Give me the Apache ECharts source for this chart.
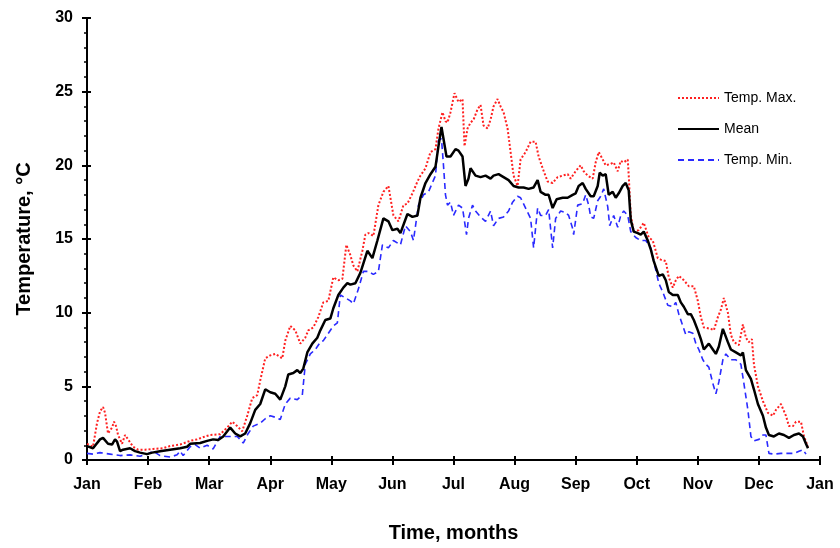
<!DOCTYPE html>
<html>
<head>
<meta charset="utf-8">
<script src="https://cdn.jsdelivr.net/npm/echarts@6/dist/echarts.min.js"></script>
<style>html,body{margin:0;padding:0;background:#fff;}#c{width:840px;height:548px;}</style>
</head>
<body>
<div id="c"></div>
<script>
// Time axis in days (one month = 30.5 days on the chart)
const monthLabels = ['Jan','Feb','Mar','Apr','May','Jun','Jul','Aug','Sep','Oct','Nov','Dec','Jan'];
const yTicks = [0,5,10,15,20,25,30];

// [day, °C]
const tempMaxData = [[0,1.1],[1.5,1.0],[3,0.9],[5,2.5],[6.5,3.3],[8,3.6],[9,3.2],[10.5,1.8],[12.5,2.2],[13.5,2.6],[14.5,2.3],[15.5,1.7],[17.5,1.1],[19,1.7],[20.5,1.4],[23,0.9],[25.5,0.7],[29,0.7],[33,0.75],[38,0.8],[41.5,0.95],[46.5,1.05],[51.5,1.3],[55,1.4],[59,1.6],[61.5,1.7],[66.5,1.75],[70,2.2],[72.5,2.6],[75,2.3],[77.5,1.95],[80,3.0],[82.5,4.2],[85,4.4],[86.5,5.4],[89,6.9],[91.5,7.1],[94,7.2],[97.5,6.9],[99,8.1],[101.5,9.1],[104,8.8],[106.5,7.9],[109,8.3],[110.5,8.8],[113,9.0],[115.5,9.7],[118,10.7],[120.5,10.8],[123,12.4],[125.5,12.2],[127.5,12.3],[129.5,14.6],[131.5,13.9],[133,13.2],[135,12.8],[137.5,14.2],[139,15.3],[140.5,15.4],[143,15.2],[145.5,17.3],[148,18.2],[150.5,18.6],[153,16.6],[155.5,16.2],[158,17.3],[160,17.4],[162.5,18.1],[165,18.9],[166.5,19.3],[169,19.8],[171.5,20.9],[174,21.1],[175.5,22.5],[177.5,23.6],[179,23.0],[180,22.9],[181.5,23.6],[183.5,24.9],[185.5,24.3],[187.5,24.5],[188.5,21.3],[190,22.5],[191.5,22.9],[193,23.1],[195,23.8],[196.5,24.1],[198,22.7],[200,22.5],[201.5,23.1],[203,24.0],[205,24.5],[206.5,24.0],[208,23.6],[210,22.5],[211.5,20.9],[213,19.3],[215,18.6],[216.5,20.4],[219,20.9],[221.5,21.6],[224,21.6],[225.5,20.6],[227.5,19.8],[230,18.9],[232.5,18.8],[235,19.2],[237.5,19.3],[240,19.4],[241.5,19.1],[244,19.6],[246.5,20.0],[248,19.6],[250,19.3],[252.5,19.1],[254,20.2],[255.5,20.9],[257.5,20.4],[259,20.0],[261.5,20.1],[263,20.2],[265,19.6],[266.5,20.3],[268,20.2],[270,20.4],[270.5,19.3],[271.5,16.6],[273,15.5],[275.5,15.6],[278,16.1],[280.5,15.1],[282.5,14.9],[285,13.7],[286.5,13.6],[289,13.5],[290.5,12.4],[292.5,11.7],[294,12.2],[295.5,12.5],[298,12.2],[300.5,11.8],[303,11.8],[305,10.8],[306.5,9.7],[308,9.0],[311.5,8.9],[313,8.8],[315,9.7],[316.5,10.2],[318,11.0],[320,10.0],[321.5,8.5],[323,8.0],[325.5,7.8],[327.5,9.2],[329,8.3],[330.5,8.0],[332,8.2],[333,6.5],[335,5.0],[337.5,4.0],[340,3.2],[342.5,3.0],[344,3.4],[346.5,3.8],[349,3.0],[350.5,2.3],[352.5,2.3],[354,2.6],[356.5,2.6],[358,1.6],[360,0.9]];

const tempMeanData = [[0,0.94],[3,0.8],[6.5,1.4],[8,1.5],[10.5,1.1],[12.5,1.05],[14,1.4],[15,1.25],[16.5,0.6],[18,0.7],[21.5,0.8],[24,0.6],[26.5,0.5],[30,0.4],[32.5,0.5],[36.5,0.6],[41.5,0.7],[46.5,0.8],[50,0.9],[51.5,1.1],[56.5,1.15],[60,1.3],[63,1.4],[65.5,1.35],[68,1.6],[71.5,2.2],[74,1.8],[76.5,1.6],[79,1.8],[81.5,2.5],[84,3.4],[86.5,3.8],[89,4.8],[91.5,4.6],[94,4.5],[96.5,4.1],[99,5.0],[100.5,5.8],[103,5.9],[105,6.1],[106.5,5.9],[108,6.2],[110,7.3],[112.5,7.9],[115,8.3],[116.5,8.8],[119,9.5],[121.5,9.6],[123,10.3],[125.5,11.2],[128,11.7],[130,12.0],[131.5,11.9],[134,12.0],[136.5,12.7],[140,14.2],[142.5,13.7],[145,14.9],[148,16.4],[150.5,16.2],[152.5,15.6],[155,15.7],[156.5,15.4],[160,16.7],[162.5,16.5],[165,16.6],[166.5,17.8],[169,18.8],[171.5,19.4],[174,19.9],[175.5,21.3],[177,22.6],[178,21.8],[179.5,20.6],[181.5,20.6],[184,21.1],[185.5,21.0],[187.5,20.6],[189,18.6],[190.5,19.1],[191.5,19.8],[194,19.3],[196.5,19.2],[199,19.3],[201.5,19.1],[203,19.3],[205.5,19.4],[208,19.2],[210.5,19.0],[213,18.6],[215.5,18.5],[218,18.5],[220.5,18.4],[223,18.5],[225,19.0],[226.5,18.2],[229,18.0],[230.5,18.0],[232.5,17.1],[234.5,17.7],[237.5,17.8],[240,17.8],[242.5,18.0],[244,18.1],[245.5,18.6],[247.5,18.8],[249,18.4],[251.5,17.9],[253,17.9],[255,18.6],[256,19.5],[257.5,19.3],[259,19.4],[260.5,18.0],[262.5,18.2],[264,17.8],[265.5,18.1],[267.5,18.6],[269,18.8],[270.5,18.3],[271.5,16.3],[273,15.5],[275,15.4],[276.5,15.3],[278,15.5],[280,14.9],[281.5,14.3],[283,13.5],[285.5,12.5],[287.5,12.6],[289,12.2],[290.5,11.4],[292.5,11.2],[295,11.2],[296.5,10.7],[298,10.4],[300,9.9],[301.5,9.9],[303,9.5],[305,8.8],[306.5,8.2],[308,7.5],[310.5,7.9],[312.5,7.5],[314,7.2],[315.5,7.7],[317.5,8.9],[320,8.0],[321.5,7.5],[324,7.3],[326.5,7.1],[327.5,7.3],[329,6.1],[331.5,5.5],[333,4.8],[335,3.8],[337.5,3.0],[339,2.2],[340.5,1.7],[343,1.6],[345.5,1.8],[348,1.7],[350.5,1.5],[353,1.7],[355.5,1.8],[357.5,1.6],[359,1.1],[360,0.8]];

const tempMinData = [[0,0.45],[3,0.4],[6.5,0.5],[11.5,0.4],[16.5,0.3],[21.5,0.35],[26.5,0.25],[30,0.4],[33,0.6],[36.5,0.3],[41.5,0.2],[45,0.35],[46.5,0.6],[48,0.3],[51.5,0.9],[54,1.05],[56.5,0.8],[60,1.0],[63,0.75],[66.5,1.6],[71.5,1.6],[75,1.6],[78,1.15],[80.5,1.8],[83,2.3],[86.5,2.5],[89,2.8],[91.5,3.0],[94,2.9],[96.5,2.75],[99,3.8],[101.5,4.2],[105,4.1],[107.5,4.4],[109,6.5],[111.5,7.2],[114,7.5],[116.5,8.0],[118,8.1],[120,8.5],[123,9.1],[125,9.3],[126.5,11.2],[129,11.0],[131.5,10.8],[133,10.6],[135.5,11.6],[138,12.8],[140.5,12.8],[143,12.6],[145.5,12.8],[147.5,14.6],[150.5,14.4],[153,14.9],[156.5,14.6],[159,15.9],[161.5,15.5],[163,14.9],[165.5,17.3],[168,18.0],[170.5,18.2],[174,19.3],[175.5,21.7],[177,21.8],[178,20.0],[179,18.0],[180,17.3],[181.5,17.5],[183,16.6],[185.5,17.3],[187.5,17.1],[189.5,15.3],[190.5,16.4],[192.5,17.3],[194,16.9],[196.5,16.5],[199,16.2],[201.5,16.9],[203,15.9],[205.5,16.4],[208,16.5],[210.5,16.9],[212.5,17.5],[215,17.9],[216.5,17.8],[219,17.1],[221.5,16.4],[223,14.4],[225,17.1],[226.5,16.6],[229,16.6],[230.5,17.0],[232.5,14.4],[234,16.4],[236.5,16.9],[239,16.8],[240.5,16.6],[242.5,15.7],[243,15.3],[245,17.3],[247.5,17.4],[249,18.0],[250.5,17.3],[251.5,16.5],[253,16.4],[255,17.6],[256.5,17.9],[258,18.4],[260,17.2],[261,15.9],[263,16.6],[265,15.8],[266.5,16.6],[268,16.9],[270,16.6],[271.5,15.5],[274,15.1],[276.5,14.9],[279,14.9],[281.5,14.4],[283,13.5],[285.5,12.0],[287.5,11.4],[290,10.5],[292.5,10.4],[294,10.7],[295.5,9.9],[299,8.5],[300.5,8.7],[302.5,8.6],[304,7.9],[305.5,7.5],[307.5,6.8],[309,6.5],[310.5,6.3],[312.5,5.2],[314,4.5],[315.5,5.3],[317.5,6.8],[319,7.2],[321.5,6.8],[324,6.8],[326.5,6.5],[328,5.2],[330,3.4],[331.5,1.6],[333,1.3],[335.5,1.4],[337.5,1.7],[339,1.7],[340.5,0.45],[343,0.4],[346.5,0.45],[350,0.45],[353,0.45],[355.5,0.6],[357.5,0.7],[359,0.4]];

const FONT = '"Liberation Sans", Arial, sans-serif';
const chart = echarts.init(document.getElementById('c'), null, {renderer: 'canvas'});
const xBase = {type: 'value', min: 0, max: 366, interval: 30.5, splitLine: {show: false}};
const yBase = {type: 'value', min: 0, max: 30, interval: 5, splitLine: {show: false}};
chart.setOption({
  animation: false,
  backgroundColor: '#fff',
  grid: {left: 87, right: 20, top: 18, bottom: 84},
  legend: {
    orient: 'vertical', left: 672, top: 86, itemWidth: 41, itemHeight: 14, itemGap: 17,
    itemStyle: {opacity: 0},
    textStyle: {fontFamily: FONT, fontSize: 14, color: '#000'},
    data: ['Temp. Max.', 'Mean', 'Temp. Min.']
  },
  xAxis: [
    Object.assign({}, xBase, {
      name: 'Time, months', nameLocation: 'middle', nameGap: 63,
      nameTextStyle: {fontFamily: FONT, fontSize: 20, fontWeight: 'bold', color: '#000'},
      axisLine: {lineStyle: {color: '#000', width: 2}},
      axisTick: {show: true, length: 5, lineStyle: {color: '#000', width: 2}},
      axisLabel: {margin: 17, fontFamily: FONT, fontSize: 16, fontWeight: 'bold', color: '#000',
        formatter: v => monthLabels[Math.round(v / 30.5)]}
    }),
    Object.assign({}, xBase, {
      position: 'bottom',
      axisLine: {show: false},
      axisTick: {show: true, inside: true, length: 4, lineStyle: {color: '#000', width: 2}},
      axisLabel: {show: false}
    })
  ],
  yAxis: [
    Object.assign({}, yBase, {
      name: 'Temperature, °C', nameLocation: 'middle', nameGap: 53,
      nameTextStyle: {fontFamily: FONT, fontSize: 20, fontWeight: 'bold', color: '#000'},
      axisLine: {show: true, lineStyle: {color: '#000', width: 2}},
      axisTick: {show: true, length: 5, lineStyle: {color: '#000', width: 2}},
      minorTick: {show: true, splitNumber: 5, length: 3, lineStyle: {color: '#000', width: 1.5}},
      axisLabel: {margin: 14, fontFamily: FONT, fontSize: 16, fontWeight: 'bold', color: '#000',
        formatter: v => yTicks.indexOf(v) >= 0 ? String(v) : ''}
    }),
    Object.assign({}, yBase, {
      position: 'left',
      axisLine: {show: false},
      axisTick: {show: true, inside: true, length: 4, lineStyle: {color: '#000', width: 2}},
      axisLabel: {show: false}
    })
  ],
  series: [
    {name: 'Temp. Max.', type: 'line', data: tempMaxData, symbol: 'none', z: 3,
     lineStyle: {color: '#ff2020', width: 2, type: [2, 2]}, itemStyle: {color: '#ff2020'}},
    {name: 'Mean', type: 'line', data: tempMeanData, symbol: 'none', z: 5,
     lineStyle: {color: '#000', width: 2.5}, itemStyle: {color: '#000'}},
    {name: 'Temp. Min.', type: 'line', data: tempMinData, symbol: 'none', z: 4,
     lineStyle: {color: '#2a2aff', width: 1.6, type: [6, 4]}, itemStyle: {color: '#2a2aff'}}
  ]
});
</script>
</body>
</html>
